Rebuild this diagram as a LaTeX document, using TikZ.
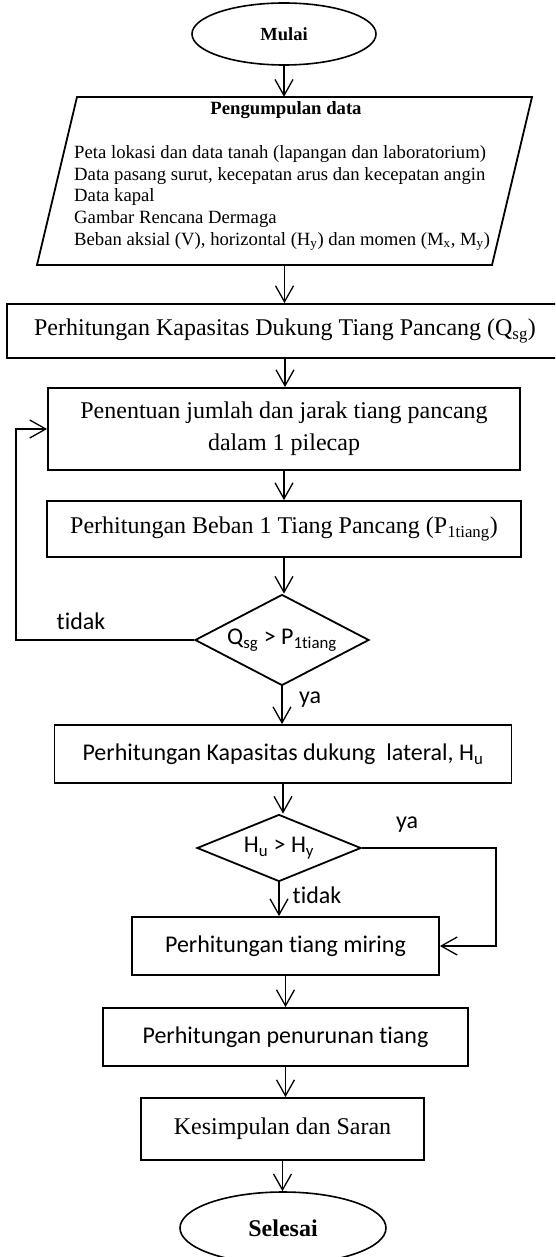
\documentclass[tikz,border=0pt]{standalone}
\usepackage{fontspec}
\setmainfont{Liberation Serif}
\newfontfamily\calibri[Ligatures={NoCommon}]{Carlito}
\usetikzlibrary{arrows.meta,shapes.geometric,calc}
\begin{document}
\begin{tikzpicture}[x=1pt,y=-1pt,
  box/.style={draw, line width=1.8pt, rectangle, inner sep=0pt, align=center},
  dec/.style={draw, diamond, line width=1.8pt, inner sep=0pt},
  term/.style={draw, ellipse, line width=1.6pt, inner sep=0pt},
  arr/.style={line width=1.3pt, -{Straight Barb[length=16pt,width=18pt,line width=1.3pt]}},
  ser/.style={font=\fontsize{24pt}{28pt}\selectfont},
  san/.style={font=\calibri\fontsize{24pt}{28pt}\selectfont},
  lbl/.style={font=\calibri\fontsize{24pt}{28pt}\selectfont, inner sep=0pt}]
\useasboundingbox (0,0) rectangle (555,1257);
\clip (0,0) rectangle (555,1257);

% start
\node[term, minimum width=184pt, minimum height=62pt, font=\bfseries\fontsize{18.5pt}{22pt}\selectfont] (mulai) at (284,34) {Mulai};

% data parallelogram
\node[minimum width=455pt, minimum height=168pt, inner sep=0pt] (data) at (284.5,181) {};
\draw[line width=1.8pt] (77,97) -- (532,97) -- (492,265) -- (37,265) -- cycle;
\node[font=\bfseries\fontsize{18.7pt}{22pt}\selectfont, inner sep=0pt] (title) at (286,110) {Pengumpulan data};
\node[anchor=west, align=left, inner sep=0pt, font=\fontsize{18.7pt}{21.7pt}\selectfont] (body) at (74,198) {Peta lokasi dan data tanah (lapangan dan laboratorium)\\
Data pasang surut, kecepatan arus dan kecepatan angin\\
Data kapal\\
Gambar Rencana Dermaga\\
Beban aksial (V), horizontal (H\textsubscript{y}) dan momen (M\textsubscript{x}, M\textsubscript{y})};

% process boxes
\node[box, ser, minimum width=556pt, minimum height=54pt] (b1) at (285,331) {Perhitungan Kapasitas Dukung Tiang Pancang (Q\textsubscript{sg})};
\node[box, font=\fontsize{24pt}{32pt}\selectfont, minimum width=472pt, minimum height=82pt] (b2) at (284,429) {Penentuan jumlah dan jarak tiang pancang\\dalam 1 pilecap};
\node[box, ser, minimum width=474pt, minimum height=56pt] (b3) at (284,529) {Perhitungan Beban 1 Tiang Pancang (P\textsubscript{1tiang})};
\node[dec, san, aspect=1.91, minimum width=174pt, minimum height=91pt] (d1) at (282,640) {Q\textsubscript{sg} > P\textsubscript{1tiang}};
\node[box, san, minimum width=457pt, minimum height=58pt] (b4) at (283,754) {Perhitungan Kapasitas dukung\ \ lateral, H\textsubscript{u}};
\node[dec, san, aspect=2.45, minimum width=164pt, minimum height=67pt] (d2) at (279,848) {H\textsubscript{u} > H\textsubscript{y}};
\node[box, san, minimum width=307pt, minimum height=58pt] (b5) at (285.5,946) {Perhitungan tiang miring};
\node[box, san, minimum width=365pt, minimum height=58pt] (b6) at (285.5,1037) {Perhitungan penurunan tiang};
\node[box, ser, minimum width=283pt, minimum height=62pt] (b7) at (282.5,1129) {Kesimpulan dan Saran};
\node[term, minimum width=206pt, minimum height=72pt, font=\bfseries\fontsize{24pt}{28pt}\selectfont] (selesai) at (283,1228) {Selesai};

% connectors
\draw[arr] (mulai.south) -- (mulai.south |- data.north);
\draw[arr] (data.south) -- (data.south |- b1.north);
\draw[arr] (b1.south) -- (b1.south |- b2.north);
\draw[arr] (b2.south) -- (b2.south |- b3.north);
\draw[arr] (b3.south) -- (b3.south |- d1.north);
\draw[arr] (d1.south) -- (d1.south |- b4.north);
\draw[arr] (b4.south) -- (b4.south |- d2.north);
\draw[arr] (d2.south) -- (d2.south |- b5.north);
\draw[arr] (b5.south) -- (b5.south |- b6.north);
\draw[arr] (b6.south) -- (b6.south |- b7.north);
\draw[arr] (b7.south) -- (b7.south |- selesai.north);

\coordinate (lp) at (16,640);
\draw[arr] (d1.west) -- (lp) |- (b2.west);
\coordinate (rp) at (496,848);
\draw[arr] (d2.east) -- (rp) |- (b5.east);

% labels
\node[lbl] (t1) at (81,621) {tidak};
\node[lbl] (y1) at (310,700) {ya};
\node[lbl] (y2) at (407,825) {ya};
\node[lbl] (t2) at (317,895) {tidak};
\end{tikzpicture}
\end{document}
